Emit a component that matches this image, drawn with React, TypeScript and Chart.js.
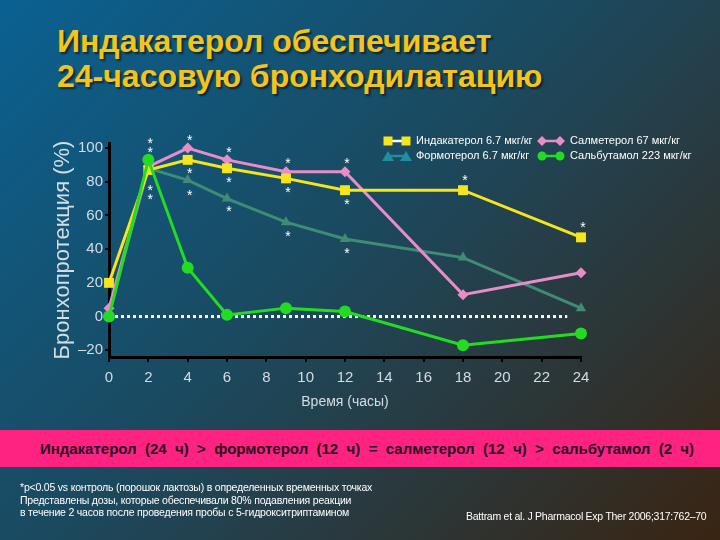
import React, { useEffect, useRef } from "react";
import { Chart, registerables } from "chart.js";

Chart.register(...registerables);

const hours = [0, 2, 4, 6, 9, 12, 18, 24];
const indacaterol = [20, 87, 93, 88, 82, 75, 75, 47];
const salmeterol = [5, 89, 100, 93, 86, 86, 13, 26];
const formoterol = [3, 88, 81, 70, 56, 46, 35, 5];
const salbutamol = [0, 93, 29, 1, 5, 3, -17, -10];

const zeroLineHours = [0, 23.3];
const zeroLineValues = [0, 0];

const starHours = [2, 2, 2, 2, 4, 4, 4, 6, 6, 6, 9, 9, 9, 12, 12, 12, 18, 24];
const starValues = [103.5, 98, 75.5, 70, 105.5, 85.5, 72.5, 98, 80.5, 63, 91.5, 74.5, 48.5, 91.5, 67.5, 38, 81.5, 53.5];

const xTicks = [0, 2, 4, 6, 8, 10, 12, 14, 16, 18, 20, 22, 24];
const yTicks = [-20, 0, 20, 40, 60, 80, 100];

const seriesNames = [
  "Индакатерол 6.7 мкг/кг",
  "Салметерол 67 мкг/кг",
  "Формотерол 6.7 мкг/кг",
  "Сальбутамол 223 мкг/кг",
];

const FONT = "'Liberation Sans', Arial, sans-serif";
const YELLOW = "#f5e51c";
const PINK = "#e98dc9";
const TEAL_LINE = "#3f8c76";
const TEAL_ICON = "#1f8e9e";
const GREEN = "#22dc22";

const toXY = (xs: number[], ys: number[]) => xs.map((x, i) => ({ x, y: ys[i] }));

const starsPlugin = {
  id: "stars",
  afterDatasetsDraw(chart: any) {
    const { ctx, scales } = chart;
    ctx.save();
    ctx.fillStyle = "#ffffff";
    ctx.font = `14px ${FONT}`;
    ctx.textAlign = "center";
    ctx.textBaseline = "middle";
    starHours.forEach((h, i) => {
      ctx.fillText("*", scales.x.getPixelForValue(h) + 2, scales.y.getPixelForValue(starValues[i]) + 2);
    });
    ctx.restore();
  },
};

function drawMarker(ctx: CanvasRenderingContext2D, style: string, x: number, y: number, color: string) {
  ctx.fillStyle = color;
  ctx.beginPath();
  if (style === "rect") {
    ctx.rect(x - 4.5, y - 4.5, 9, 9);
  } else if (style === "diamond") {
    ctx.moveTo(x, y - 5);
    ctx.lineTo(x + 5, y);
    ctx.lineTo(x, y + 5);
    ctx.lineTo(x - 5, y);
    ctx.closePath();
  } else if (style === "triangle") {
    ctx.moveTo(x, y - 5);
    ctx.lineTo(x + 6, y + 5);
    ctx.lineTo(x - 6, y + 5);
    ctx.closePath();
  } else {
    ctx.arc(x, y, 4.5, 0, Math.PI * 2);
  }
  ctx.fill();
}

const legendPlugin = {
  id: "customLegend",
  afterDraw(chart: any) {
    const ctx = chart.ctx as CanvasRenderingContext2D;
    const items = [
      { label: seriesNames[0], color: YELLOW, style: "rect", x: 384, y: 141 },
      { label: seriesNames[1], color: PINK, style: "diamond", x: 538, y: 141 },
      { label: seriesNames[2], color: TEAL_ICON, style: "triangle", x: 384, y: 156 },
      { label: seriesNames[3], color: GREEN, style: "circle", x: 538, y: 156 },
    ];
    ctx.save();
    items.forEach((it) => {
      ctx.strokeStyle = it.style === "rect" ? "#ffffff" : it.color;
      ctx.lineWidth = 2.5;
      ctx.beginPath();
      ctx.moveTo(it.x + 4, it.y);
      ctx.lineTo(it.x + 22, it.y);
      ctx.stroke();
      drawMarker(ctx, it.style, it.x + 4, it.y, it.color);
      drawMarker(ctx, it.style, it.x + 22, it.y, it.color);
      ctx.fillStyle = "#ffffff";
      ctx.font = `11px ${FONT}`;
      ctx.textAlign = "left";
      ctx.textBaseline = "middle";
      ctx.fillText(it.label, it.x + 32, it.y);
    });
    ctx.restore();
  },
};

function LineChart() {
  const ref = useRef<HTMLCanvasElement>(null);
  useEffect(() => {
    if (!ref.current) return;
    const lineDs = (label: string, data: number[], color: string, pointStyle: string, radius: number) => ({
      label,
      data: toXY(hours, data),
      borderColor: color,
      backgroundColor: color,
      borderWidth: 3,
      pointStyle,
      pointRadius: radius,
      pointBorderWidth: 0,
      tension: 0,
      clip: false,
    });
    const chart = new Chart(ref.current, {
      type: "line",
      data: {
        datasets: [
          {
            label: "zero",
            data: toXY(zeroLineHours, zeroLineValues),
            borderColor: "#ffffff",
            borderWidth: 3,
            borderDash: [3, 3],
            pointRadius: 0,
            order: 10,
          } as any,
          { ...lineDs(seriesNames[2], formoterol, TEAL_LINE, "triangle", 6), order: 4 },
          { ...lineDs(seriesNames[1], salmeterol, PINK, "rectRot", 5.5), order: 3 },
          { ...lineDs(seriesNames[0], indacaterol, YELLOW, "rect", 7), order: 2 },
          { ...lineDs(seriesNames[3], salbutamol, GREEN, "circle", 6), order: 1 },
        ],
      },
      options: {
        responsive: false,
        animation: false,
        layout: { padding: { left: 50, right: 139, top: 143, bottom: 123 } },
        plugins: {
          legend: { display: false },
          tooltip: { enabled: false },
        },
        scales: {
          x: {
            type: "linear",
            min: 0,
            max: 24,
            afterFit: (s: any) => {
              s.height = 60;
            },
            afterBuildTicks: (s: any) => {
              s.ticks = xTicks.map((v) => ({ value: v }));
            },
            grid: { drawOnChartArea: false, drawTicks: true, tickLength: 5, color: "#000000", lineWidth: 2 },
            border: { display: true, color: "#000000", width: 3 },
            ticks: { color: "#d4dce4", font: { family: FONT, size: 15 }, padding: 7, maxRotation: 0, autoSkip: false },
            title: {
              display: true,
              text: "Время (часы)",
              color: "#d4dce4",
              font: { family: FONT, size: 14 },
              padding: { top: 4, bottom: 6 },
            },
          },
          y: {
            type: "linear",
            min: -24,
            max: 103,
            afterFit: (s: any) => {
              s.width = 59;
            },
            afterBuildTicks: (s: any) => {
              s.ticks = yTicks.map((v) => ({ value: v }));
            },
            grid: { drawOnChartArea: false, drawTicks: true, tickLength: 4, color: "#000000", lineWidth: 2 },
            border: { display: true, color: "#000000", width: 3 },
            ticks: {
              color: "#d4dce4",
              font: { family: FONT, size: 15 },
              padding: 2,
              callback: (v: any) => (v < 0 ? "–" + Math.abs(v) : String(v)),
            },
            title: {
              display: true,
              text: "Бронхопротекция (%)",
              color: "#d4dce4",
              font: { family: FONT, size: 22 },
              padding: { top: 0, bottom: 0 },
            },
          },
        },
      },
      plugins: [starsPlugin, legendPlugin],
    } as any);
    return () => chart.destroy();
  }, []);
  return <canvas ref={ref} width={720} height={540} style={{ position: "absolute", left: 0, top: 0 }} />;
}

export default function App() {
  return (
    <div
      style={{
        position: "absolute",
        left: 0,
        top: 0,
        width: 720,
        height: 540,
        overflow: "hidden",
        background: "linear-gradient(135deg, #0a6192 0%, #1a4a60 45%, #24404c 60%, #3a2412 100%)",
        fontFamily: FONT,
      }}
    >
      <div
        style={{
          position: "absolute",
          left: 57,
          top: 24,
          fontSize: 32,
          lineHeight: "35px",
          fontWeight: "bold",
          color: "#f4c41c",
          textShadow: "2px 2px 2px rgba(0,0,0,0.55)",
          whiteSpace: "nowrap",
        }}
      >
        Индакатерол обеспечивает
        <br />
        24-часовую бронходилатацию
      </div>
      <LineChart />
      <div
        style={{
          position: "absolute",
          left: 0,
          top: 430,
          width: 720,
          height: 37,
          boxSizing: "border-box",
          paddingLeft: 14,
          background: "#fe2381",
          display: "flex",
          alignItems: "center",
          justifyContent: "center",
          fontSize: 15,
          fontWeight: "bold",
          color: "#2a0c22",
          wordSpacing: 4.2,
          whiteSpace: "nowrap",
        }}
      >
        Индакатерол (24 ч) &gt; формотерол (12 ч) = салметерол (12 ч) &gt; сальбутамол (2 ч)
      </div>
      <div
        style={{
          position: "absolute",
          left: 20,
          top: 481,
          fontSize: 10.5,
          lineHeight: "12.7px",
          color: "#ffffff",
          letterSpacing: -0.2,
          whiteSpace: "nowrap",
        }}
      >
        *p&lt;0.05 vs контроль (порошок лактозы) в определенных временных точках
        <br />
        Представлены дозы, которые обеспечивали 80% подавления реакции
        <br />
        в течение 2 часов после проведения пробы с 5-гидрокситриптамином
      </div>
      <div
        style={{
          position: "absolute",
          left: 466,
          top: 510,
          fontSize: 10.5,
          color: "#ffffff",
          letterSpacing: -0.26,
          whiteSpace: "nowrap",
        }}
      >
        Battram et al. J Pharmacol Exp Ther 2006;317:762–70
      </div>
    </div>
  );
}
